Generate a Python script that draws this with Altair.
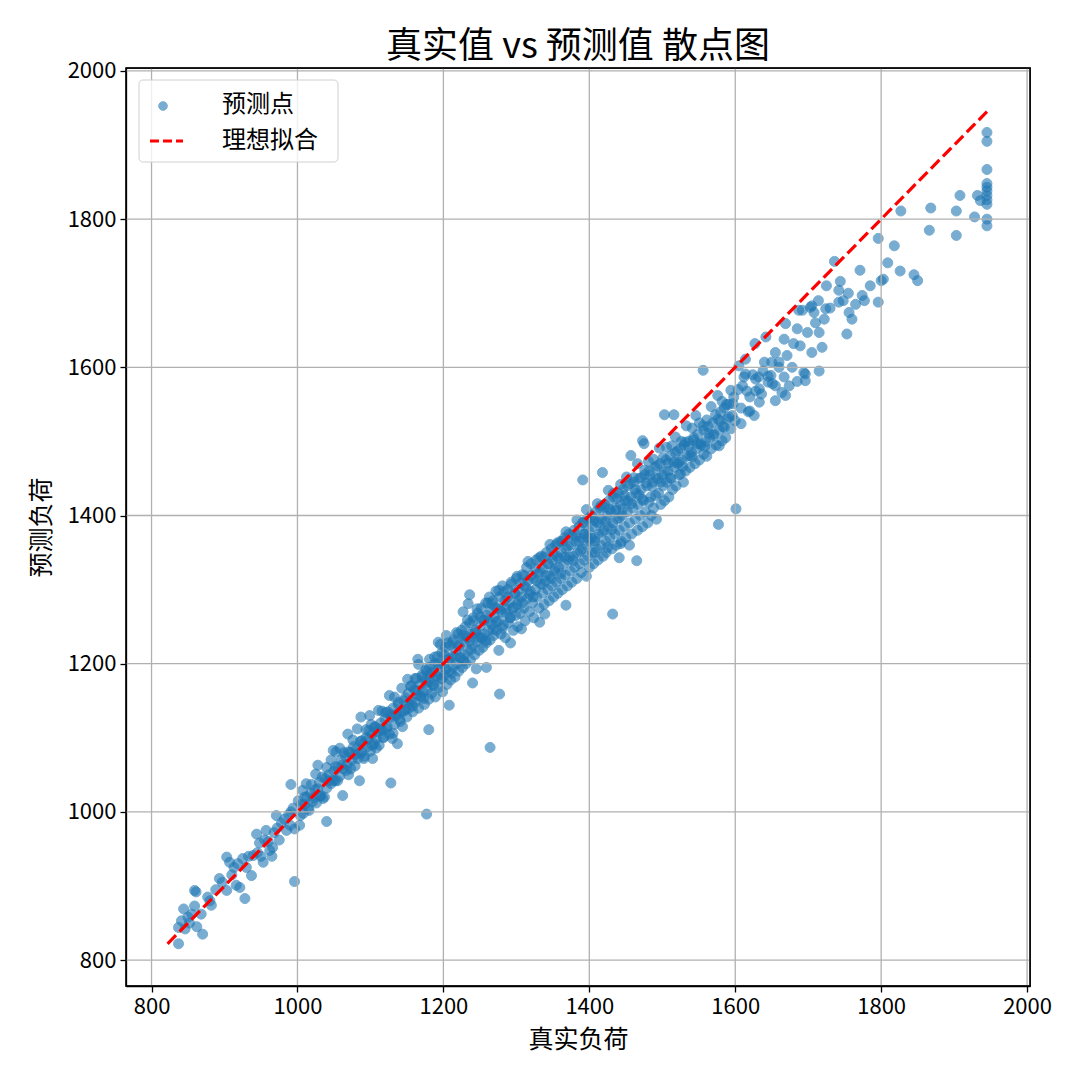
import altair as alt
import pandas as pd

# ---- data (true load, predicted load) ----
pts_800_1000 = [
    (837,822),(870,835),(862,845),(841,853),(837,844),(846,842),(844,869),(859,873),(868,862),(859,894),
    (861,892),(877,885),(882,874),(928,883),(903,939),(907,932),(893,910),(903,894),(916,901),(921,898),
    (937,914),(925,937),(939,941),(953,932),(944,970),(957,975),(966,952),(971,995),(991,1000),(996,977),
    (1003,982),(996,906),(850,858),(855,862),(852,850),(880,880),(888,895),(897,905),(910,915),(913,925),
    (918,930),(930,925),(933,940),(945,945),(948,958),(950,940),(955,962),(960,960),(962,948),(968,972),
    (972,978),(975,962),(978,985),(982,990),(985,975),(988,996),(994,1005),(991,1037),(990,982),(965,940),
]
pts_1000_1150 = [
    (1005,1010),(1008,998),(1010,1020),(1012,1038),(1015,1005),(1018,1025),(1021,1014),(1024,1030),(1026,1012),(1028,1063),
    (1030,1040),(1032,1022),(1035,1018),(1038,1045),(1040,987),(1040,1032),(1043,1050),(1046,1038),(1049,1083),(1050,1055),
    (1052,1042),(1053,1081),(1055,1060),(1058,1048),(1060,1070),(1062,1022),(1063,1058),(1066,1075),(1068,1064),(1069,1105),
    (1070,1050),(1072,1080),(1075,1070),(1077,1088),(1079,1062),(1081,1085),(1083,1072),(1085,1042),(1086,1095),(1087,1128),
    (1088,1080),(1090,1092),(1092,1075),(1094,1100),(1096,1088),(1098,1110),(1099,1130),(1100,1082),(1102,1105),(1103,1072),
    (1105,1092),(1106,1115),(1108,1098),(1110,1108),(1112,1090),(1114,1120),(1116,1110),(1118,1100),(1120,1125),(1122,1112),
    (1124,1135),(1126,1105),(1128,1039),(1128,1128),(1130,1099),(1131,1140),(1133,1118),(1135,1130),(1137,1092),(1138,1145),
    (1140,1125),(1142,1135),(1144,1115),(1146,1150),(1148,1138),(1150,1128),
    (1001,1015),(1004,995),(1007,1029),(1010,1010),(1013,1020),(1016,1002),(1019,1037),(1022,1019),(1025,1051),(1028,1031),
    (1031,1021),(1034,1047),(1037,1020),(1040,1060),(1043,1042),(1046,1070),(1049,1042),(1052,1061),(1055,1042),(1058,1086),
    (1061,1063),(1064,1080),(1067,1056),(1070,1081),(1073,1058),(1076,1097),(1079,1077),(1082,1112),(1085,1079),(1088,1096),
    (1091,1072),(1094,1111),(1097,1098),
]
pts_1150_1300 = [
    (1152,1160),(1153,1140),(1155,1170),(1156,1150),(1158,1135),(1160,1165),(1161,1148),(1163,1180),(1164,1158),(1165,1206),
    (1166,1140),(1168,1172),(1169,1155),(1171,1185),(1172,1162),(1174,1145),(1175,1178),(1177,997),(1177,1190),(1178,1165),
    (1180,1111),(1180,1152),(1181,1195),(1182,1175),(1184,1160),(1185,1188),(1187,1170),(1188,1200),(1189,1155),(1191,1182),
    (1192,1210),(1193,1229),(1194,1168),(1195,1195),(1197,1180),(1198,1215),(1199,1162),(1200,1200),(1202,1185),(1203,1222),
    (1204,1238),(1205,1172),(1206,1205),(1208,1144),(1208,1190),(1209,1225),(1210,1178),(1212,1210),(1213,1195),(1214,1232),
    (1216,1182),(1217,1218),(1218,1200),(1220,1240),(1221,1190),(1222,1225),(1224,1208),(1225,1245),(1226,1195),(1227,1270),
    (1228,1230),(1229,1212),(1230,1250),(1231,1200),(1233,1235),(1234,1281),(1234,1218),(1236,1293),(1236,1255),(1237,1205),
    (1239,1240),(1240,1174),(1240,1225),(1241,1262),(1243,1212),(1244,1245),(1245,1193),(1246,1230),(1247,1268),(1249,1218),
    (1250,1250),(1251,1235),(1252,1275),(1254,1222),(1255,1258),(1256,1240),(1258,1282),(1259,1195),(1259,1228),(1260,1265),
    (1262,1245),(1263,1290),(1264,1087),(1264,1232),(1265,1270),(1267,1252),(1268,1285),(1269,1238),(1270,1262),(1272,1298),
    (1273,1245),(1274,1275),(1276,1218),(1276,1258),(1277,1159),(1277,1290),(1279,1240),(1280,1270),(1281,1305),(1282,1252),
    (1284,1285),(1285,1235),(1286,1268),(1288,1300),(1289,1255),(1290,1282),(1292,1228),(1292,1262),(1293,1310),(1295,1275),
    (1296,1245),(1298,1295),(1299,1265),(1300,1315),
]
pts_core_extra = [
    (1101,1118),(1103,1090),(1106,1114),(1108,1086),(1111,1137),(1113,1112),(1116,1136),(1118,1101),(1121,1134),(1123,1115),
    (1126,1157),(1128,1131),(1131,1106),(1133,1155),(1136,1132),(1138,1148),(1141,1122),(1143,1167),(1146,1136),(1148,1154),
    (1151,1179),(1153,1147),(1156,1170),(1158,1143),(1161,1180),(1163,1164),(1166,1199),(1168,1157),(1171,1182),(1173,1153),
    (1176,1192),(1178,1175),(1181,1206),(1183,1187),(1186,1172),(1188,1209),(1191,1184),(1193,1200),(1196,1226),(1198,1180),
    (1201,1212),(1203,1193),(1206,1228),(1208,1207),(1211,1187),(1213,1229),(1216,1209),(1218,1242),(1221,1223),(1223,1208),
    (1226,1238),(1228,1204),(1231,1237),(1233,1259),(1236,1231),(1238,1219),(1241,1258),(1243,1242),(1246,1274),(1248,1236),
    (1251,1263),(1253,1235),(1256,1259),(1258,1231),(1261,1282),(1263,1257),(1266,1281),(1268,1246),(1271,1276),(1273,1257),
    (1276,1299),(1278,1273),(1281,1248),(1283,1297),(1286,1274),(1288,1290),(1291,1262),(1293,1307),(1296,1276),(1298,1294),
    (1301,1318),(1303,1286),(1306,1309),(1308,1282),(1311,1319),(1313,1303),(1316,1338),(1318,1294),(1321,1319),(1323,1290),
    (1326,1329),(1328,1312),(1331,1343),(1333,1324),(1336,1307),(1338,1344),(1341,1319),(1343,1335),(1346,1361),(1348,1315),
    (1351,1347),(1353,1328),(1356,1363),(1358,1342),(1361,1322),(1363,1365),(1366,1344),(1368,1378),(1371,1359),(1373,1344),
    (1376,1373),(1378,1339),(1381,1372),(1383,1394),(1386,1365),(1388,1352),(1391,1391),(1393,1375),(1396,1408),(1398,1370),
    (1401,1397),(1403,1369),(1406,1393),(1408,1365),(1411,1416),(1413,1391),(1416,1413),(1418,1378),(1421,1411),(1423,1392),
    (1426,1434),(1428,1408),(1431,1381),(1433,1430),(1436,1407),(1438,1423),(1441,1397),(1443,1442),(1446,1409),(1448,1427),
    (1451,1452),(1453,1420),(1456,1443),(1458,1416),(1461,1451),(1463,1435),(1466,1470),(1468,1428),(1471,1451),(1473,1422),
    (1476,1461),(1478,1444),(1481,1473),(1483,1454),(1486,1439),(1488,1476),(1491,1451),(1493,1467),(1496,1491),(1498,1445),
    (1501,1478),(1503,1459),(1506,1492),(1508,1471),(1511,1451),(1513,1494),(1516,1472),(1518,1506),(1521,1487),(1523,1472),
    (1526,1500),(1528,1466),(1531,1499),(1533,1521),(1536,1493),(1538,1481),(1541,1518),(1543,1502),(1546,1535),(1548,1497),
    (1551,1525),(1553,1497),(1556,1521),(1558,1493),
]
pts_1300_1450 = [
    (1301,1280),(1302,1250),(1304,1300),(1305,1268),(1307,1247),(1307,1290),(1308,1320),(1310,1275),(1311,1305),(1312,1258),
    (1314,1330),(1315,1288),(1316,1312),(1318,1270),(1319,1298),(1320,1335),(1322,1282),(1323,1315),(1324,1262),(1326,1300),
    (1327,1340),(1328,1290),(1330,1322),(1331,1275),(1332,1256),(1333,1308),(1334,1345),(1336,1295),(1337,1328),(1338,1280),
    (1339,1267),(1340,1312),(1341,1350),(1343,1300),(1344,1335),(1345,1285),(1346,1318),(1348,1355),(1349,1305),(1350,1340),
    (1351,1290),(1352,1325),(1354,1360),(1355,1310),(1356,1345),(1357,1295),(1358,1330),(1360,1365),(1361,1315),(1362,1350),
    (1363,1300),(1365,1335),(1366,1370),(1367,1320),(1368,1279),(1368,1355),(1370,1305),(1371,1340),(1372,1375),(1374,1325),
    (1375,1360),(1376,1310),(1378,1345),(1379,1380),(1380,1330),(1382,1365),(1383,1315),(1384,1350),(1386,1385),(1387,1335),
    (1388,1370),(1389,1323),(1390,1355),(1391,1448),(1392,1390),(1393,1340),(1394,1375),(1396,1318),(1396,1360),(1397,1395),
    (1398,1345),(1399,1380),(1400,1330),(1401,1365),(1403,1400),(1404,1350),(1405,1385),(1406,1335),(1408,1350),(1408,1370),
    (1409,1405),(1410,1355),(1411,1390),(1412,1340),(1413,1375),(1415,1410),(1416,1360),(1417,1395),(1418,1458),(1419,1345),
    (1420,1380),(1421,1415),(1423,1350),(1423,1365),(1424,1400),(1425,1357),(1426,1385),(1427,1420),(1428,1370),(1430,1405),
    (1431,1355),(1432,1267),(1432,1390),(1433,1425),(1435,1375),(1436,1410),(1437,1360),(1438,1395),(1440,1430),(1441,1343),
    (1441,1380),(1443,1415),(1443,1362),(1444,1365),(1445,1400),(1446,1435),(1448,1385),(1449,1420),(1450,1370),
]
pts_1450_1600 = [
    (1452,1405),(1453,1440),(1455,1360),(1455,1390),(1457,1481),(1457,1425),(1458,1375),(1460,1410),(1461,1445),(1463,1395),
    (1464,1430),(1465,1339),(1466,1380),(1467,1415),(1468,1450),(1470,1400),(1471,1435),(1473,1501),(1473,1385),(1474,1420),
    (1475,1497),(1476,1455),(1477,1405),(1479,1440),(1480,1390),(1482,1418),(1482,1460),(1484,1425),(1485,1400),(1487,1445),
    (1488,1410),(1490,1465),(1491,1427),(1492,1395),(1494,1450),(1495,1430),(1497,1470),(1498,1415),(1500,1455),(1501,1440),
    (1503,1536),(1503,1420),(1505,1475),(1506,1445),(1508,1460),(1509,1425),(1511,1480),(1512,1450),(1514,1435),(1516,1536),
    (1516,1465),(1518,1485),(1519,1440),(1521,1470),(1523,1455),(1525,1456),(1525,1490),(1527,1475),(1529,1445),(1530,1495),
    (1532,1460),(1534,1480),(1536,1500),(1538,1465),(1540,1485),(1541,1479),(1543,1505),(1545,1470),(1547,1490),(1549,1510),
    (1551,1475),(1553,1495),(1556,1596),(1557,1483),(1557,1515),(1559,1500),(1561,1480),(1563,1520),(1565,1505),(1567,1490),
    (1569,1525),(1571,1510),(1574,1495),(1576,1530),(1577,1388),(1578,1494),(1578,1515),(1580,1540),(1582,1501),(1583,1520),
    (1585,1545),(1587,1505),(1589,1530),(1591,1550),(1594,1517),(1596,1535),(1598,1560),(1601,1409),
    (1561,1529),(1564,1511),(1567,1547),(1570,1508),(1573,1536),(1576,1562),(1579,1528),(1582,1554),(1585,1519),(1588,1550),
    (1591,1533),(1594,1569),(1597,1551),(1600,1528),
]
pts_1600_1800 = [
    (1605,1602),(1608,1524),(1610,1575),(1614,1611),(1614,1591),(1618,1540),(1620,1560),(1626,1535),(1627,1632),(1628,1584),
    (1633,1571),(1633,1553),(1638,1595),(1642,1641),(1645,1580),(1649,1589),(1651,1578),(1655,1555),(1655,1620),(1660,1600),
    (1664,1566),(1667,1638),(1667,1587),(1669,1659),(1669,1562),(1671,1616),(1674,1575),(1678,1600),(1680,1632),(1685,1652),
    (1685,1581),(1687,1677),(1689,1629),(1692,1677),(1694,1593),(1696,1582),(1696,1591),(1699,1647),(1703,1681),(1705,1683),
    (1705,1620),(1708,1674),(1710,1660),(1714,1690),(1715,1647),(1715,1595),(1719,1627),(1722,1665),(1724,1679),(1725,1710),
    (1730,1680),(1736,1743),(1742,1704),(1742,1688),(1744,1716),(1748,1690),(1753,1645),(1755,1700),(1756,1674),(1760,1665),
    (1765,1685),(1771,1731),(1774,1697),(1777,1690),(1785,1710),
    (1604,1570),(1608,1545),(1612,1587),(1616,1568),(1620,1541),(1624,1590),(1628,1568),(1632,1587),(1636,1564),(1640,1607),
    (1645,1588),(1650,1607),(1655,1575),(1660,1607),
]
pts_1800_1950 = [
    (1796,1774),(1796,1688),(1800,1717),(1803,1719),(1809,1741),(1818,1764),(1826,1730),(1827,1811),(1845,1725),(1850,1717),
    (1866,1785),(1868,1815),(1903,1811),(1903,1778),(1908,1832),(1928,1803),(1932,1832),(1936,1825),(1945,1917),(1945,1905),
    (1945,1867),(1945,1848),(1945,1843),(1945,1838),(1945,1832),(1945,1826),(1945,1820),(1945,1800),(1945,1791),
]

tick_values = [800, 1000, 1200, 1400, 1600, 1800, 2000]
axis_domain = [765, 2004]

title_text = "真实值 vs 预测值 散点图"
x_title = "真实负荷"
y_title = "预测负荷"
legend_points = "预测点"
legend_line = "理想拟合"

FONT = "Noto Sans CJK SC"
BLUE = "#1f77b4"

all_pts = (pts_800_1000 + pts_1000_1150 + pts_1150_1300 + pts_core_extra + pts_1300_1450
           + pts_1450_1600 + pts_1600_1800 + pts_1800_1950)
df = pd.DataFrame(all_pts, columns=["true", "pred"])

lo = float(min(df["true"].min(), df["pred"].min()))
hi = float(max(df["true"].max(), df["pred"].max()))
line_df = pd.DataFrame({"true": [lo, hi], "pred": [lo, hi]})
ticks_df = pd.DataFrame({"v": tick_values})

W, H = 904, 918

xscale = alt.Scale(domain=axis_domain, nice=False, zero=False)
yscale = alt.Scale(domain=axis_domain, nice=False, zero=False)

axis_style = dict(
    values=tick_values, format="d", grid=False,
    labelFont=FONT, titleFont=FONT, labelFontSize=22, titleFontSize=25,
    titleFontWeight="normal", labelColor="black", titleColor="black",
    tickColor="black", domainColor="black", tickSize=6, tickWidth=1.3,
    domainWidth=1.3, labelPadding=4,
)
xaxis = alt.Axis(title=x_title, titlePadding=10, **axis_style)
yaxis = alt.Axis(title=y_title, titlePadding=13, **axis_style)

points = alt.Chart(df).mark_circle(
    size=100, color=BLUE, opacity=0.6, stroke=BLUE, strokeWidth=1
).encode(
    x=alt.X("true:Q", scale=xscale, axis=xaxis),
    y=alt.Y("pred:Q", scale=yscale, axis=yaxis),
)

vgrid = alt.Chart(ticks_df).mark_rule(color="#b0b0b0", strokeWidth=1.3).encode(
    x=alt.X("v:Q", scale=xscale, axis=xaxis)
)
hgrid = alt.Chart(ticks_df).mark_rule(color="#b0b0b0", strokeWidth=1.3).encode(
    y=alt.Y("v:Q", scale=yscale, axis=yaxis)
)

ideal = alt.Chart(line_df).mark_line(
    color="#ff0000", strokeWidth=3.2, strokeDash=[12, 5]
).encode(
    x=alt.X("true:Q", scale=xscale, axis=xaxis),
    y=alt.Y("pred:Q", scale=yscale, axis=yaxis),
)

one = pd.DataFrame({"a": [0]})

frame = alt.Chart(one).mark_rect(
    fill="white", fillOpacity=0, stroke="black", strokeWidth=1.3
).encode(x=alt.value(0), x2=alt.value(W), y=alt.value(0), y2=alt.value(H))

# legend (inside the plot, upper left)
legend_box = alt.Chart(one).mark_rect(
    fill="white", fillOpacity=0.8, stroke="#d0d0d0", strokeWidth=1, cornerRadius=4
).encode(x=alt.value(13), x2=alt.value(212), y=alt.value(12), y2=alt.value(94))

legend_dot = alt.Chart(one).mark_circle(
    size=75, color=BLUE, opacity=0.6, stroke=BLUE, strokeWidth=1
).encode(x=alt.value(37), y=alt.value(38))

legend_dash = alt.Chart(one).mark_rule(
    color="#ff0000", strokeWidth=3.2, strokeDash=[9, 4]
).encode(x=alt.value(24), x2=alt.value(57), y=alt.value(73))

legend_txt1 = alt.Chart(pd.DataFrame({"t": [legend_points]})).mark_text(
    align="left", baseline="middle", font=FONT, fontSize=24, color="black"
).encode(x=alt.value(96), y=alt.value(37), text="t:N")

legend_txt2 = alt.Chart(pd.DataFrame({"t": [legend_line]})).mark_text(
    align="left", baseline="middle", font=FONT, fontSize=24, color="black"
).encode(x=alt.value(96), y=alt.value(73), text="t:N")

chart = alt.layer(
    points, vgrid, hgrid, ideal, frame,
    legend_box, legend_dot, legend_dash, legend_txt1, legend_txt2
).properties(
    width=W, height=H,
    background="white",
    title=alt.TitleParams(title_text, fontSize=36, font=FONT, fontWeight="normal",
                          anchor="middle", offset=0, dy=6, color="black"),
    autosize=alt.AutoSizeParams(type="none"),
    padding={"left": 118, "top": 60, "right": 42, "bottom": 86},
).configure_view(
    stroke="black", strokeWidth=1.3
)

chart.save("out.html", embed_options={"renderer": "svg", "actions": False})
